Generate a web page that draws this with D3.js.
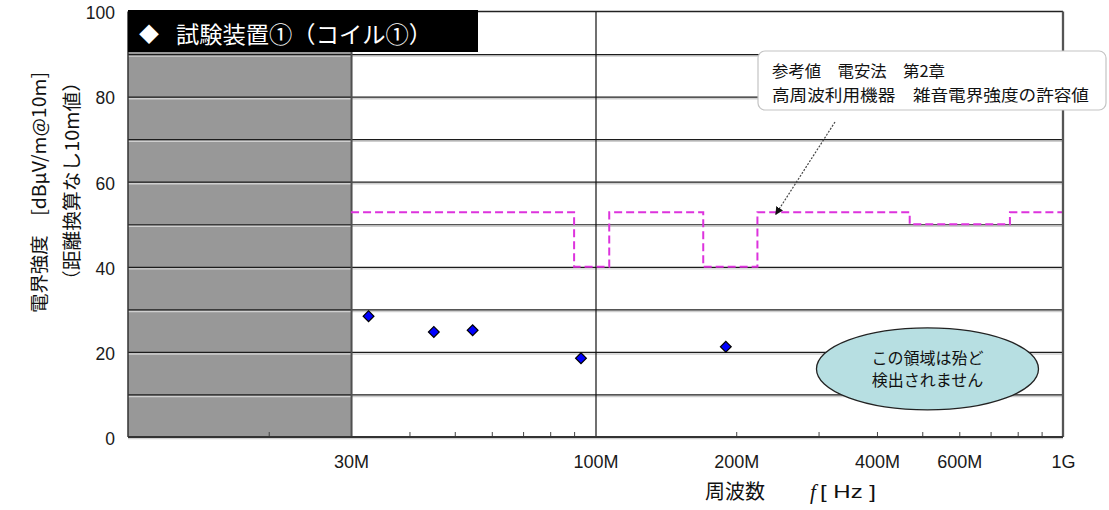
<!DOCTYPE html>
<html>
<head>
<meta charset="utf-8">
<script src="https://cdn.jsdelivr.net/npm/d3@7"></script>
<style>
  body { margin: 0; background: #fff; }
  svg { display: block; }
</style>
</head>
<body>
<script>
'use strict';

// frequency axis labels (MHz)
let freqLabelValues = [30, 100, 200, 400, 600, 1000];
let freqLabels = ["30M", "100M", "200M", "400M", "600M", "1G"];
// small ticks on the bottom axis (MHz)
let freqMinorTicks = [20, 40, 50, 60, 70, 80, 90, 200, 300, 400, 500, 600, 700, 800, 900];
// level axis
let levelTicks = [0, 20, 40, 60, 80, 100];
let levelGrid = [10, 20, 30, 40, 50, 60, 70, 80, 90];

// measured points, test device (coil 1)
let measFreq = [32.7, 45.1, 54.6, 93.1, 190];
let measLevel = [28.4, 24.7, 25.1, 18.5, 21.2];

// reference limit, step line (MHz / dB)
let limitFreq = [30, 90, 107, 170, 222, 470, 770, 1000];
let limitLevel = [52.8, 40, 52.8, 40, 52.8, 50, 52.8, 52.8];

// band that can not be measured (grey)
let greyBand = [10, 30];

let svgContainer = ""; // keep SVG reference global
let plot = { left: 128, right: 1063, top: 11.5, bottom: 437 };
let jpFont = "'Noto Sans CJK JP', 'Noto Sans CJK SC', sans-serif";
let numFont = "'Liberation Sans', Arial, sans-serif";

window.onload = function() {
  svgContainer = d3.select('body')
    .append('svg')
    .attr('width', 1109)
    .attr('height', 510);

  let map = makeScales();
  drawBackground(map);
  drawGrid(map);
  plotLimit(map);
  plotData(map);
  drawAxes(map);
  makeNotes(map);
  makeLabels(map);
};

// log scale for frequency, linear for level
function makeScales() {
  let x = d3.scaleLog()
    .domain([10, 1000])
    .range([plot.left, plot.right]);
  let y = d3.scaleLinear()
    .domain([0, 100])
    .range([plot.bottom, plot.top]);
  return { x: x, y: y };
}

// grey band below 30M
function drawBackground(map) {
  svgContainer.append('rect')
    .attr('x', map.x(greyBand[0]))
    .attr('y', map.y(100))
    .attr('width', map.x(greyBand[1]) - map.x(greyBand[0]))
    .attr('height', map.y(0) - map.y(100))
    .attr('fill', '#989898');
}

// horizontal grid every 10 dB, vertical at 30M and 100M
function drawGrid(map) {
  let yGrid = d3.axisLeft(map.y)
    .tickValues(levelGrid)
    .tickSize(-(plot.right - plot.left))
    .tickFormat("");

  // light shadow below each line
  svgContainer.append('g')
    .attr('transform', `translate(${plot.left}, 1.6)`)
    .call(yGrid)
    .call(g => g.select('.domain').remove())
    .selectAll('line')
    .attr('stroke', '#cfcfcf')
    .attr('stroke-width', 1.4);

  svgContainer.append('g')
    .attr('transform', `translate(${plot.left}, 0)`)
    .call(yGrid)
    .call(g => g.select('.domain').remove())
    .selectAll('line')
    .attr('stroke', '#1c1c1c')
    .attr('stroke-width', 1.2);

  let xGrid = d3.axisBottom(map.x)
    .tickValues([30, 100])
    .tickSize(-(plot.bottom - plot.top))
    .tickFormat("");
  svgContainer.append('g')
    .attr('transform', `translate(0, ${plot.bottom})`)
    .call(xGrid)
    .call(g => g.select('.domain').remove())
    .selectAll('line')
    .attr('stroke', (d) => d === 30 ? '#505050' : '#111')
    .attr('stroke-width', (d) => d === 30 ? 2 : 1.2);
}

// magenta dashed reference limit
function plotLimit(map) {
  let limitData = limitFreq.map((f, i) => ({ f: f, v: limitLevel[i] }));
  let line = d3.line()
    .x((d) => map.x(d.f))
    .y((d) => map.y(d.v))
    .curve(d3.curveStepAfter);

  svgContainer.append('path')
    .datum(limitData)
    .attr('d', line)
    .attr('fill', 'none')
    .attr('stroke', '#dd33dd')
    .attr('stroke-width', 2)
    .attr('stroke-dasharray', '8,4');
}

// blue diamonds
function plotData(map) {
  let sym = d3.symbol().type(d3.symbolSquare).size(58);
  svgContainer.selectAll('.dot')
    .data(measFreq)
    .enter()
    .append('path')
    .attr('class', 'dot')
    .attr('d', sym)
    .attr('transform', (d, i) => `translate(${map.x(d)}, ${map.y(measLevel[i])}) rotate(45)`)
    .attr('fill', '#0000ff')
    .attr('stroke', '#000')
    .attr('stroke-width', 1.2);
}

// frame, ticks and tick labels
function drawAxes(map) {
  // small inward ticks on the bottom
  svgContainer.append('g')
    .attr('transform', `translate(0, ${plot.bottom})`)
    .call(d3.axisBottom(map.x).tickValues(freqMinorTicks).tickSize(-5).tickFormat(""))
    .call(g => g.select('.domain').remove())
    .selectAll('line')
    .attr('stroke', '#444');

  // frame
  svgContainer.append('line')
    .attr('x1', plot.left).attr('x2', plot.right)
    .attr('y1', plot.top).attr('y2', plot.top)
    .attr('stroke', '#222').attr('stroke-width', 1.3);
  svgContainer.append('line')
    .attr('x1', plot.right).attr('x2', plot.right)
    .attr('y1', plot.top).attr('y2', plot.bottom)
    .attr('stroke', '#555').attr('stroke-width', 2.3);
  svgContainer.append('line')
    .attr('x1', plot.left).attr('x2', plot.left)
    .attr('y1', plot.top).attr('y2', plot.bottom)
    .attr('stroke', '#333').attr('stroke-width', 1.5);
  svgContainer.append('line')
    .attr('x1', plot.left).attr('x2', plot.right)
    .attr('y1', plot.bottom + 1.5).attr('y2', plot.bottom + 1.5)
    .attr('stroke', '#d0d0d0').attr('stroke-width', 1.5);
  svgContainer.append('line')
    .attr('x1', plot.left).attr('x2', plot.right)
    .attr('y1', plot.bottom).attr('y2', plot.bottom)
    .attr('stroke', '#333').attr('stroke-width', 2);

  // frequency labels
  svgContainer.append('g')
    .attr('transform', `translate(0, ${plot.bottom})`)
    .call(d3.axisBottom(map.x)
      .tickValues(freqLabelValues)
      .tickSize(0)
      .tickPadding(18)
      .tickFormat((d, i) => freqLabels[i]))
    .call(g => g.select('.domain').remove())
    .selectAll('text')
    .attr('fill', '#1a1a1a')
    .style('font-family', numFont)
    .style('font-size', '18px');

  // level labels
  svgContainer.append('g')
    .attr('transform', `translate(${plot.left}, 0)`)
    .call(d3.axisLeft(map.y)
      .tickValues(levelTicks)
      .tickSize(0)
      .tickPadding(13))
    .call(g => g.select('.domain').remove())
    .selectAll('text')
    .attr('dy', '0.42em')
    .attr('fill', '#1a1a1a')
    .style('font-family', numFont)
    .style('font-size', '17.5px');
}

// title box, reference note, arrow and ellipse
function makeNotes(map) {
  svgContainer.append('rect')
    .attr('x', plot.left)
    .attr('y', 10)
    .attr('width', 350)
    .attr('height', 42)
    .attr('fill', '#000');
  svgContainer.append('text')
    .attr('x', 139)
    .attr('y', 42)
    .attr('fill', '#fff')
    .style('font-family', jpFont)
    .style('font-size', '20px')
    .text('◆');
  svgContainer.append('text')
    .attr('x', 176)
    .attr('y', 43)
    .attr('fill', '#fff')
    .attr('textLength', 256)
    .attr('lengthAdjust', 'spacingAndGlyphs')
    .style('font-family', jpFont)
    .style('font-size', '23px')
    .text('試験装置①（コイル①）');

  // note box
  svgContainer.append('rect')
    .attr('x', 758)
    .attr('y', 51)
    .attr('width', 348)
    .attr('height', 59)
    .attr('rx', 7)
    .attr('fill', '#fff')
    .attr('stroke', '#c4c4c4')
    .attr('stroke-width', 1.2);
  let noteLines = ['参考値　電安法　第2章', '高周波利用機器　雑音電界強度の許容値'];
  let noteLen = [173, 317];
  svgContainer.selectAll('.note')
    .data(noteLines)
    .enter()
    .append('text')
    .attr('class', 'note')
    .attr('x', 772)
    .attr('y', (d, i) => 77 + i * 24)
    .attr('textLength', (d, i) => noteLen[i])
    .attr('lengthAdjust', 'spacingAndGlyphs')
    .attr('fill', '#111')
    .style('font-family', jpFont)
    .style('font-size', '16px')
    .text((d) => d);

  // arrow from note to the limit line
  svgContainer.append('defs').append('marker')
    .attr('id', 'head')
    .attr('viewBox', '0 0 10 10')
    .attr('refX', 9).attr('refY', 5)
    .attr('markerWidth', 8).attr('markerHeight', 8)
    .attr('markerUnits', 'userSpaceOnUse')
    .attr('orient', 'auto')
    .append('path')
    .attr('d', 'M0,0 L10,5 L0,10 Z')
    .attr('fill', '#111');
  svgContainer.append('line')
    .attr('x1', 835).attr('y1', 122)
    .attr('x2', map.x(243)).attr('y2', map.y(52.8) + 2)
    .attr('stroke', '#444')
    .attr('stroke-width', 1.2)
    .attr('stroke-dasharray', '2,1.5')
    .attr('marker-end', 'url(#head)');

  // ellipse note
  let cx = map.x(513);
  let cy = map.y(16);
  svgContainer.append('ellipse')
    .attr('cx', cx).attr('cy', cy)
    .attr('rx', 111).attr('ry', 41)
    .attr('fill', '#b7dfe2')
    .attr('stroke', '#222')
    .attr('stroke-width', 1.3);
  let ellLines = ['この領域は殆ど', '検出されません'];
  svgContainer.selectAll('.ell')
    .data(ellLines)
    .enter()
    .append('text')
    .attr('class', 'ell')
    .attr('x', cx)
    .attr('y', (d, i) => cy - 5 + i * 22)
    .attr('text-anchor', 'middle')
    .attr('fill', '#111')
    .style('font-family', jpFont)
    .style('font-size', '16px')
    .text((d) => d);
}

// axis titles
function makeLabels(map) {
  svgContainer.append('text')
    .attr('transform', 'translate(46, 72) rotate(-90)')
    .attr('text-anchor', 'end')
    .attr('textLength', 241)
    .attr('lengthAdjust', 'spacingAndGlyphs')
    .attr('fill', '#111')
    .style('font-family', jpFont)
    .style('font-size', '18.5px')
    .text('電界強度　[dBμV/m@10m]');

  svgContainer.append('text')
    .attr('transform', 'translate(79, 72) rotate(-90)')
    .attr('text-anchor', 'end')
    .attr('textLength', 218)
    .attr('lengthAdjust', 'spacingAndGlyphs')
    .attr('fill', '#111')
    .style('font-family', jpFont)
    .style('font-size', '19px')
    .text('（距離換算なし10m値）');

  svgContainer.append('text')
    .attr('x', 705)
    .attr('y', 499)
    .attr('fill', '#111')
    .style('font-family', jpFont)
    .style('font-size', '20px')
    .text('周波数');
  svgContainer.append('text')
    .attr('x', 810)
    .attr('y', 499)
    .attr('fill', '#111')
    .style('font-family', "'Liberation Serif', serif")
    .style('font-style', 'italic')
    .style('font-size', '21px')
    .text('f');
  svgContainer.append('text')
    .attr('x', 820)
    .attr('y', 498)
    .attr('textLength', 56)
    .attr('lengthAdjust', 'spacingAndGlyphs')
    .attr('fill', '#111')
    .style('font-family', numFont)
    .style('font-size', '17.5px')
    .text('[ Hz ]');
}
</script>
</body>
</html>
